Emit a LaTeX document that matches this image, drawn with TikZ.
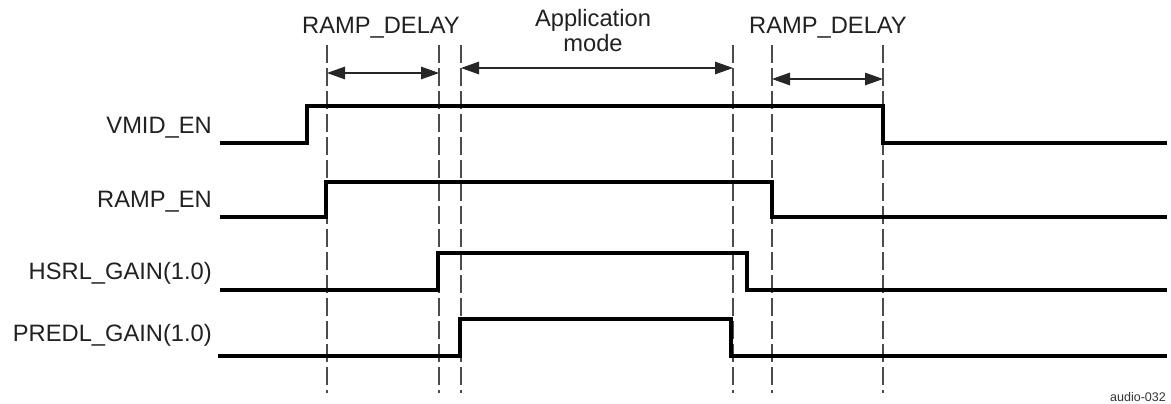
\documentclass[tikz,border=0pt]{standalone}
\usepackage{fontspec}
\setmainfont{Liberation Sans}
\usetikzlibrary{arrows.meta}
\begin{document}
\begin{tikzpicture}[x=1pt,y=-1pt,
  lbl/.style={font=\fontsize{23.7}{25}\selectfont, text=black!87, inner sep=0pt},
  sig/.style={line width=3.8pt, line join=miter, black},
  guide/.style={line width=1.3pt, black!70, dash pattern=on 18pt off 5pt},
  dim/.style={line width=1.4pt, black!85, {Triangle[length=18pt,width=12.5pt]}-{Triangle[length=18pt,width=12.5pt]}}]
\useasboundingbox (0,0) rectangle (1171,404);
% guide lines
\foreach \n/\x in {1/327,2/439,3/461,4/733,5/772,6/883}{
  \coordinate (t\n) at (\x,45);
  \coordinate (b\n) at (\x,393);
  \draw[guide] (t\n) -- (b\n);
}
% labels
\node[lbl, anchor=base east] (lv) at (212,133) {VMID\_EN};
\node[lbl, anchor=base east] (lr) at (212,207) {RAMP\_EN};
\node[lbl, anchor=base east] (lh) at (212,279) {HSRL\_GAIN(1.0)};
\node[lbl, anchor=base east] (lp) at (212,341) {PREDL\_GAIN(1.0)};
\node[lbl, anchor=base] (rd1) at (381,34) {RAMP\_DELAY};
\node[lbl, anchor=base] (rd2) at (828,34) {RAMP\_DELAY};
\node[lbl, anchor=north, align=center] (app) at (593,9) {Application\\mode};
\node[font=\fontsize{12.5}{14}\selectfont, text=black!80, inner sep=0pt, anchor=base east] (fig) at (1166,401) {audio-032};
% dimension arrows
\coordinate (a1l) at (327,73); \coordinate (a1r) at (439,73);
\coordinate (a2l) at (461,68); \coordinate (a2r) at (733,68);
\coordinate (a3l) at (772,79); \coordinate (a3r) at (883,79);
\draw[dim] (a1l) -- (a1r);
\draw[dim] (a2l) -- (a2r);
\draw[dim] (a3l) -- (a3r);
% signals
\draw[sig] (220,143) -- (307,143) -- (307,106) -- (883,106) -- (883,143) -- (1167,143);
\draw[sig] (220,217) -- (326,217) -- (326,182) -- (772,182) -- (772,217) -- (1167,217);
\draw[sig] (220,290) -- (438,290) -- (438,253) -- (747,253) -- (747,290) -- (1167,290);
\draw[sig] (218,356) -- (460,356) -- (460,319) -- (731,319) -- (731,356) -- (1167,356);
\end{tikzpicture}
\end{document}
